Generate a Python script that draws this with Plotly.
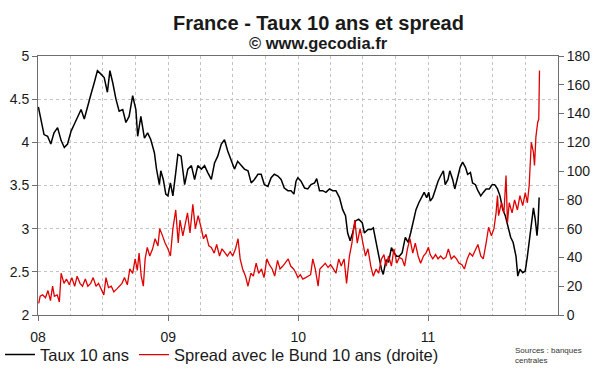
import plotly.graph_objects as go

# ---------------- data ----------------
taux_dates = [
    "2008-01-02", "2008-01-09", "2008-01-18", "2008-01-28", "2008-02-06", "2008-02-15", "2008-02-25",
    "2008-03-06", "2008-03-15", "2008-03-24", "2008-04-03", "2008-04-12", "2008-04-21", "2008-05-01",
    "2008-05-10", "2008-05-19", "2008-05-29", "2008-06-07", "2008-06-16", "2008-06-26", "2008-07-05",
    "2008-07-14", "2008-07-21", "2008-07-29", "2008-08-07", "2008-08-16", "2008-08-26", "2008-09-04",
    "2008-09-13", "2008-09-23", "2008-10-02", "2008-10-07", "2008-10-16", "2008-10-26", "2008-11-04",
    "2008-11-13", "2008-11-23", "2008-11-29", "2008-12-07", "2008-12-11", "2008-12-18", "2008-12-25",
    "2008-12-31",
    "2009-01-07", "2009-01-14", "2009-01-22", "2009-01-28", "2009-02-06", "2009-02-16", "2009-02-25",
    "2009-03-07", "2009-03-16", "2009-03-25", "2009-04-04", "2009-04-13", "2009-04-22", "2009-05-02",
    "2009-05-11", "2009-05-20", "2009-05-30", "2009-06-08", "2009-06-17", "2009-06-27", "2009-07-06",
    "2009-07-15", "2009-07-25", "2009-08-03", "2009-08-13", "2009-08-22", "2009-08-31", "2009-09-10",
    "2009-09-19", "2009-09-28", "2009-10-08", "2009-10-17", "2009-10-26", "2009-11-05", "2009-11-14",
    "2009-11-23", "2009-12-03", "2009-12-12", "2009-12-20", "2009-12-26", "2009-12-31",
    "2010-01-09", "2010-01-19", "2010-01-28", "2010-02-06", "2010-02-16", "2010-02-22", "2010-03-02",
    "2010-03-11", "2010-03-20", "2010-03-30", "2010-04-08", "2010-04-17", "2010-04-27", "2010-05-06",
    "2010-05-14", "2010-05-20", "2010-05-27", "2010-06-03", "2010-06-11", "2010-06-20", "2010-06-30",
    "2010-07-06", "2010-07-16", "2010-07-25", "2010-07-31", "2010-08-08", "2010-08-15", "2010-08-23",
    "2010-08-28", "2010-09-05", "2010-09-12", "2010-09-20", "2010-09-27", "2010-10-05", "2010-10-12",
    "2010-10-20", "2010-10-29", "2010-11-06", "2010-11-13", "2010-11-21", "2010-11-28", "2010-12-06",
    "2010-12-13", "2010-12-21", "2010-12-28",
    "2011-01-03", "2011-01-07", "2011-01-14", "2011-01-22", "2011-01-29", "2011-02-05", "2011-02-13",
    "2011-02-18", "2011-02-26", "2011-03-03", "2011-03-11", "2011-03-17", "2011-03-25", "2011-04-01",
    "2011-04-08", "2011-04-16", "2011-04-22", "2011-04-30", "2011-05-06", "2011-05-14", "2011-05-21",
    "2011-05-29", "2011-06-05", "2011-06-13", "2011-06-22", "2011-06-30", "2011-07-07", "2011-07-15",
    "2011-07-22", "2011-07-30", "2011-08-06", "2011-08-13", "2011-08-21", "2011-08-28", "2011-09-05",
    "2011-09-10", "2011-09-16", "2011-09-24", "2011-10-01", "2011-10-07", "2011-10-12", "2011-10-18",
    "2011-10-24", "2011-10-29", "2011-11-03", "2011-11-06", "2011-11-09",
]
taux_values = [
    4.41, 4.25, 4.09, 4.07, 3.98, 4.11, 4.17,
    4.02, 3.94, 3.98, 4.13, 4.21, 4.30, 4.38,
    4.27, 4.42, 4.56, 4.69, 4.83, 4.79, 4.75,
    4.58, 4.83, 4.69, 4.50, 4.36, 4.38, 4.23,
    4.30, 4.54, 4.38, 4.07, 4.30, 4.05, 4.11,
    4.03, 3.88, 3.69, 3.51, 3.67, 3.57, 3.40,
    3.38,
    3.53, 3.38, 3.65, 3.86, 3.84, 3.51, 3.69,
    3.73, 3.57, 3.73, 3.69, 3.73, 3.65, 3.57,
    3.76, 3.84, 3.98, 4.03, 3.90, 3.78, 3.69,
    3.78, 3.73, 3.69, 3.67, 3.53, 3.57, 3.63,
    3.63, 3.51, 3.49, 3.59, 3.63, 3.61, 3.57,
    3.47, 3.44, 3.44, 3.40, 3.55, 3.59,
    3.55, 3.47, 3.46, 3.51, 3.53, 3.58, 3.44,
    3.44, 3.42, 3.46, 3.44, 3.44, 3.36, 3.22,
    3.15, 2.95, 2.86, 2.95, 3.09, 3.11, 3.07,
    2.95, 2.99, 2.99, 3.01, 2.84, 2.68, 2.53,
    2.47, 2.64, 2.61, 2.78, 2.72, 2.68, 2.68,
    2.72, 2.90, 2.84, 2.95, 3.11, 3.22, 3.30,
    3.36, 3.42, 3.36,
    3.42, 3.32, 3.36, 3.46, 3.55, 3.61, 3.67,
    3.51, 3.57, 3.67, 3.57, 3.46, 3.61, 3.71,
    3.77, 3.71, 3.63, 3.65, 3.53, 3.51, 3.44,
    3.38, 3.42, 3.46, 3.46, 3.51, 3.51, 3.46,
    3.38, 3.22, 3.15, 3.03, 2.90, 2.84, 2.68,
    2.45, 2.53, 2.49, 2.51, 2.68, 2.84, 3.07,
    3.24, 3.11, 2.92, 3.07, 3.36,
]

spread_dates = [
    "2008-01-03", "2008-01-07", "2008-01-14", "2008-01-22", "2008-01-29", "2008-02-05", "2008-02-11",
    "2008-02-16", "2008-02-24", "2008-03-01", "2008-03-06", "2008-03-14", "2008-03-21", "2008-03-29",
    "2008-04-05", "2008-04-13", "2008-04-20", "2008-04-28", "2008-05-05", "2008-05-13", "2008-05-20",
    "2008-05-28", "2008-06-04", "2008-06-12", "2008-06-19", "2008-06-27", "2008-07-04", "2008-07-10",
    "2008-07-17", "2008-07-25", "2008-08-01", "2008-08-09", "2008-08-16", "2008-08-24", "2008-08-31",
    "2008-09-08", "2008-09-15", "2008-09-23", "2008-09-30", "2008-10-06", "2008-10-11", "2008-10-17",
    "2008-10-23", "2008-10-28", "2008-11-03", "2008-11-10", "2008-11-18", "2008-11-25", "2008-12-03",
    "2008-12-08", "2008-12-16", "2008-12-23", "2008-12-31",
    "2009-01-07", "2009-01-14", "2009-01-22", "2009-01-29", "2009-02-03", "2009-02-11", "2009-02-18",
    "2009-02-24", "2009-03-03", "2009-03-11", "2009-03-18", "2009-03-26", "2009-04-02", "2009-04-10",
    "2009-04-17", "2009-04-25", "2009-05-02", "2009-05-10", "2009-05-17", "2009-05-25", "2009-06-01",
    "2009-06-09", "2009-06-16", "2009-06-24", "2009-07-01", "2009-07-09", "2009-07-16", "2009-07-22",
    "2009-07-29", "2009-08-06", "2009-08-13", "2009-08-21", "2009-08-28", "2009-09-05", "2009-09-12",
    "2009-09-20", "2009-09-27", "2009-10-05", "2009-10-12", "2009-10-20", "2009-10-27", "2009-11-04",
    "2009-11-11", "2009-11-19", "2009-11-26", "2009-12-04", "2009-12-11", "2009-12-19", "2009-12-26",
    "2009-12-31",
    "2010-01-07", "2010-01-14", "2010-01-22", "2010-01-29", "2010-02-05", "2010-02-11", "2010-02-18",
    "2010-02-26", "2010-03-03", "2010-03-11", "2010-03-18", "2010-03-26", "2010-04-02", "2010-04-10",
    "2010-04-17", "2010-04-25", "2010-05-02", "2010-05-10", "2010-05-17", "2010-05-25", "2010-06-01",
    "2010-06-09", "2010-06-16", "2010-06-24", "2010-07-01", "2010-07-09", "2010-07-16", "2010-07-24",
    "2010-07-31", "2010-08-08", "2010-08-15", "2010-08-23", "2010-08-30", "2010-09-05", "2010-09-12",
    "2010-09-20", "2010-09-27", "2010-10-05", "2010-10-12", "2010-10-20", "2010-10-27", "2010-11-04",
    "2010-11-11", "2010-11-19", "2010-11-26", "2010-12-04", "2010-12-11", "2010-12-19", "2010-12-26",
    "2011-01-02", "2011-01-07", "2011-01-14", "2011-01-22", "2011-01-29", "2011-02-05", "2011-02-13",
    "2011-02-20", "2011-02-27", "2011-03-07", "2011-03-15", "2011-03-22", "2011-03-29", "2011-04-06",
    "2011-04-13", "2011-04-21", "2011-04-28", "2011-05-06", "2011-05-14", "2011-05-21", "2011-05-29",
    "2011-06-05", "2011-06-13", "2011-06-20", "2011-06-28", "2011-07-05", "2011-07-11", "2011-07-15",
    "2011-07-18", "2011-07-26", "2011-08-02", "2011-08-08", "2011-08-12", "2011-08-17", "2011-08-25",
    "2011-09-01", "2011-09-09", "2011-09-16", "2011-09-24", "2011-10-01", "2011-10-07", "2011-10-12",
    "2011-10-18", "2011-10-24", "2011-10-27", "2011-10-31", "2011-11-05", "2011-11-08", "2011-11-10",
]
spread_values = [
    8, 13, 14, 12, 17, 10, 20,
    13, 14, 9, 29, 22, 25, 21,
    26, 20, 27, 22, 20, 25, 20,
    22, 26, 20, 22, 18, 14, 26,
    19, 20, 16, 18, 20, 22, 26,
    21, 32, 29, 39, 31, 43, 27,
    20, 39, 47, 41, 46, 53, 48,
    60, 55, 50, 46,
    41, 60, 73, 50, 66, 55, 64,
    71, 57, 77, 60, 69, 62, 53,
    56, 48, 47, 43, 49, 41, 46,
    43, 41, 44, 41, 46, 53, 39,
    32, 27, 20, 29, 27, 36, 29,
    32, 26, 39, 35, 32, 27, 38,
    32, 34, 36, 39, 34, 32, 29,
    26,
    28, 25, 26, 27, 28, 39, 32,
    20, 32, 34, 36, 33, 35, 32,
    29, 39, 34, 39, 22, 41, 50,
    66, 50, 60, 50, 41, 46, 34,
    27, 32, 29, 39, 42, 34, 41,
    34, 46, 36, 40, 39, 34, 46,
    53, 43, 50, 41, 36, 41, 43,
    47, 42, 39, 42, 39, 41, 39,
    40, 46, 39, 41, 39, 36, 35,
    32, 39, 43, 41, 46, 49, 41,
    39, 50, 61, 55, 60, 71, 83,
    69, 78, 71, 97, 64, 78, 71,
    80, 73, 83, 76, 85, 78, 90,
    120, 113, 104, 124, 134, 136, 170,
]

year_ticks = ["2008-01-01", "2009-01-01", "2010-01-01", "2011-01-01"]
year_labels = ["08", "09", "10", "11"]

title_text = "France - Taux 10 ans et spread"
subtitle_text = "© www.gecodia.fr"
source_text = "Sources : banques<br>centrales"
name_taux = "Taux 10 ans"
name_spread = "Spread avec le Bund 10 ans (droite)"

# ---------------- figure ----------------
FONT = "Arial, Liberation Sans, sans-serif"
AXIS = "#6e6e6e"
GRID = "#c4c4c4"

fig = go.Figure()
fig.add_trace(go.Scatter(x=taux_dates, y=taux_values, mode="lines", name=name_taux,
                         line=dict(color="#000000", width=1.5), yaxis="y"))
fig.add_trace(go.Scatter(x=spread_dates, y=spread_values, mode="lines", name=name_spread,
                         line=dict(color="#e00000", width=1.3), yaxis="y2"))

fig.update_layout(
    width=600, height=372,
    margin=dict(l=38, r=42, t=56, b=57, autoexpand=False),
    paper_bgcolor="white", plot_bgcolor="white",
    font=dict(family=FONT, size=14, color="#1a1a1a"),
    xaxis=dict(
        type="date", range=["2008-01-01", "2012-01-01"],
        tickvals=year_ticks, ticktext=year_labels,
        ticks="outside", ticklen=5, tickcolor=AXIS, tickwidth=1,
        showline=True, linecolor=AXIS, linewidth=1, mirror=True,
        showgrid=True, gridcolor=GRID, griddash="dot", gridwidth=1,
        minor=dict(dtick="M3", tick0="2008-01-01", showgrid=True, gridcolor=GRID,
                   griddash="dot", ticks=""),
        ticklabelstandoff=4,
        tickfont=dict(size=14),
        zeroline=False,
    ),
    yaxis=dict(
        range=[2, 5], dtick=0.5, tick0=2,
        ticks="outside", ticklen=5, tickcolor=AXIS,
        showline=True, linecolor=AXIS, linewidth=1,
        showgrid=True, gridcolor=GRID, griddash="dot",
        tickfont=dict(size=14), zeroline=False,
    ),
    yaxis2=dict(
        range=[0, 180], dtick=20, tick0=0, overlaying="y", side="right",
        ticks="outside", ticklen=5, tickcolor=AXIS,
        showline=True, linecolor=AXIS, linewidth=1,
        showgrid=False, tickfont=dict(size=14), zeroline=False,
    ),
    showlegend=True,
    legend=dict(orientation="h", xref="container", yref="container",
                x=-0.026, xanchor="left", y=0.046, yanchor="middle",
                font=dict(size=16.5, color="#1a1a1a"), bgcolor="rgba(0,0,0,0)",
                traceorder="normal"),
    annotations=[
        dict(text="<b>" + title_text + "</b>", xref="paper", yref="paper", x=0.54, y=1.127,
             xanchor="center", yanchor="middle", showarrow=False,
             font=dict(size=20, family=FONT, color="#1a1a1a")),
        dict(text="<b>" + subtitle_text + "</b>", xref="paper", yref="paper", x=0.54, y=1.05,
             xanchor="center", yanchor="middle", showarrow=False,
             font=dict(size=16.5, family=FONT, color="#1a1a1a")),
        dict(text=source_text, xref="paper", yref="paper", x=0.913, y=-0.113,
             xanchor="left", yanchor="top", align="left", showarrow=False,
             font=dict(size=8, family=FONT, color="#333333")),
    ],
)

# remove the default 8px page margin so the figure sits at the window's top-left corner
fig.write_html("out.html", config={"displayModeBar": False},
               post_script="document.body.style.margin='0';")
